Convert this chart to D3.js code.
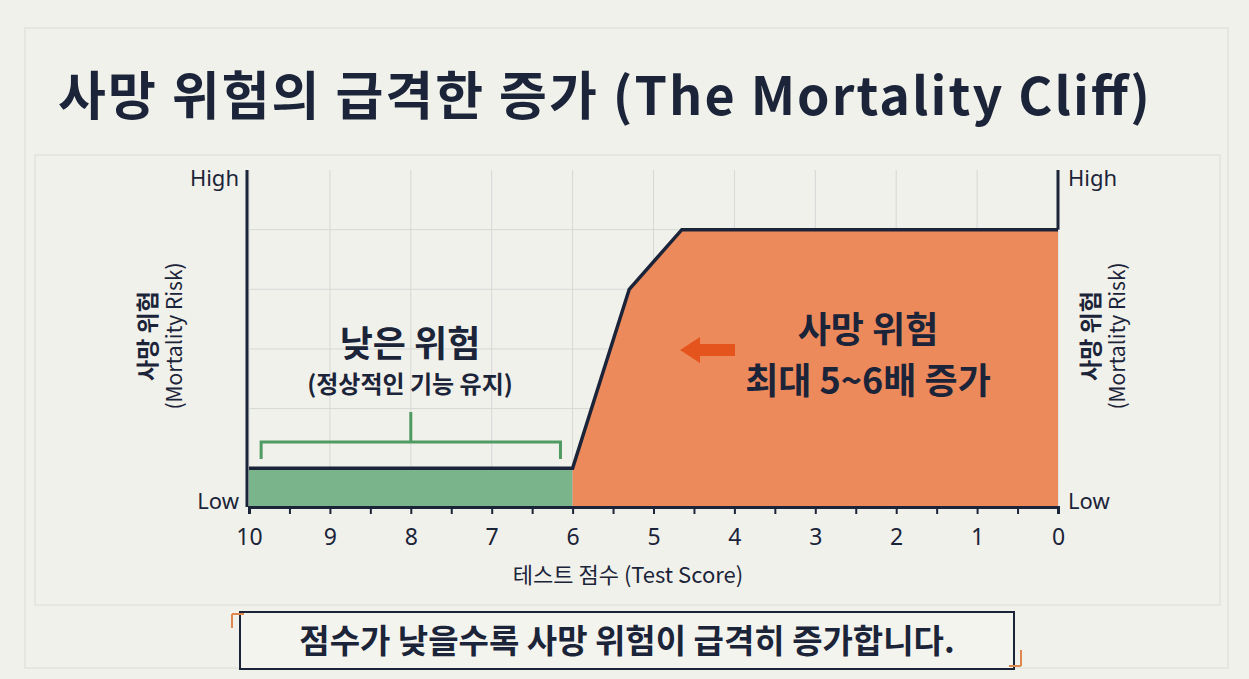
<!DOCTYPE html>
<html><head><meta charset="utf-8">
<script src="https://cdn.jsdelivr.net/npm/d3@7"></script>
<style>body{margin:0;background:#f1f1ec;font-family:"Noto Sans CJK KR","Noto Sans",sans-serif}</style>
</head><body><svg id="c" width="1249" height="679"></svg>
<script>
// data
const lowSeries = [[10, 0.65], [6, 0.65]];
const highSeries = [[6, 0.65], [5.3, 3.65], [4.65, 4.65], [0, 4.65]];
const xTicks = [10, 9, 8, 7, 6, 5, 4, 3, 2, 1, 0];
const yGrid = [0.65, 1.65, 2.65, 3.65, 4.65];
const yLabels = ["Low", "High"];

const svg = d3.select("#c");
const navy = "#1b2438";
const x = d3.scaleLinear().domain([10, 0]).range([249, 1058]);
const y = d3.scaleLinear().domain([0, 5.65]).range([507, 170]);

svg.append("rect").attr("x", 25).attr("y", 28).attr("width", 1203).attr("height", 640)
  .attr("fill", "none").attr("stroke", "#dcdcd6");
svg.append("rect").attr("x", 35).attr("y", 155).attr("width", 1185).attr("height", 450)
  .attr("fill", "none").attr("stroke", "#dcdcd6");
svg.append("text").attr("x", 58).attr("y", 115).attr("font-size", 52).attr("font-weight", 700)
  .attr("textLength", 1092).attr("fill", navy).text("사망 위험의 급격한 증가 (The Mortality Cliff)");

// grid
const g = svg.append("g");
g.selectAll(".vg").data(xTicks).join("line")
  .attr("x1", d => x(d)).attr("x2", d => x(d)).attr("y1", y(5.65)).attr("y2", y(0))
  .attr("stroke", "#d6d8d6");
g.selectAll(".hg").data(yGrid).join("line")
  .attr("x1", x(10)).attr("x2", x(0)).attr("y1", d => y(d)).attr("y2", d => y(d))
  .attr("stroke", "#d6d8d6");

const area = d3.area().x(d => x(d[0])).y0(y(0)).y1(d => y(d[1]));
const line = d3.line().x(d => x(d[0])).y(d => y(d[1]));
g.append("path").datum(lowSeries).attr("d", area).attr("fill", "#7ab48b");
g.append("path").datum(highSeries).attr("d", area).attr("fill", "#ec8a5c");
g.append("path").datum(lowSeries.concat(highSeries.slice(1))).attr("d", line)
  .attr("fill", "none").attr("stroke", navy).attr("stroke-width", 3.5);
g.append("line").attr("x1", x(0)).attr("x2", x(0)).attr("y1", y(5.65)).attr("y2", y(4.65))
  .attr("stroke", navy).attr("stroke-width", 3);

// axes
const xAxis = d3.axisBottom(x).tickValues(d3.range(0, 10.01, 0.5)).tickSize(7)
  .tickFormat(d => Number.isInteger(d) ? d : "");
const ax = svg.append("g").attr("transform", `translate(0,${y(0)})`).call(xAxis);
ax.select(".domain").attr("stroke", navy).attr("stroke-width", 3);
ax.selectAll(".tick line").attr("stroke", navy).attr("stroke-width", 2);
ax.selectAll(".tick text").attr("font-size", 23).attr("fill", navy).attr("dy", "1.2em")
  .attr("font-family", "Noto Sans");
svg.append("line").attr("x1", x(10) - 2).attr("x2", x(10) - 2).attr("y1", y(5.65)).attr("y2", y(0))
  .attr("stroke", navy).attr("stroke-width", 3);

[[x(10) - 10, "end"], [x(0) + 10, "start"]].forEach(([px, anc]) => {
  [[0, yLabels[0]], [5.65, yLabels[1]]].forEach(([v, t]) => {
    svg.append("text").attr("x", px).attr("y", y(v) + (v ? 16 : 2)).attr("text-anchor", anc)
      .attr("font-size", 22).attr("fill", navy).attr("font-family", "Noto Sans").text(t);
  });
});
[[160, 336], [1103, 336]].forEach(([px, py]) => {
  const t = svg.append("text").attr("transform", `translate(${px},${py}) rotate(-90)`)
    .attr("text-anchor", "middle").attr("fill", navy);
  t.append("tspan").attr("x", 0).attr("dy", -4).attr("font-size", 23).attr("font-weight", 700).text("사망 위험");
  t.append("tspan").attr("x", 0).attr("dy", 26).attr("font-size", 21).text("(Mortality Risk)");
});
svg.append("text").attr("x", 628).attr("y", 583).attr("text-anchor", "middle").attr("font-size", 22)
  .attr("fill", navy).text("테스트 점수 (Test Score)");

// annotations
svg.append("text").attr("x", 410).attr("y", 357).attr("text-anchor", "middle").attr("font-size", 36)
  .attr("font-weight", 700).attr("fill", navy).text("낮은 위험");
svg.append("text").attr("x", 410).attr("y", 393).attr("text-anchor", "middle").attr("font-size", 24)
  .attr("font-weight", 700).attr("fill", navy).text("(정상적인 기능 유지)");
svg.append("path").attr("d", `M${x(9.85)},459 V442 H${x(6.15)} V459 M${x(8)},442 V412`)
  .attr("fill", "none").attr("stroke", "#4f9b62").attr("stroke-width", 3);
svg.append("text").attr("x", 868).attr("y", 343).attr("text-anchor", "middle").attr("font-size", 36)
  .attr("font-weight", 700).attr("fill", navy).text("사망 위험");
svg.append("text").attr("x", 868).attr("y", 394).attr("text-anchor", "middle").attr("font-size", 36)
  .attr("font-weight", 700).attr("fill", navy).text("최대 5~6배 증가");
svg.append("path").attr("d", "M680,350 L700,337 L700,344 L735,344 L735,356 L700,356 L700,363 Z")
  .attr("fill", "#e4541c");

// bottom note
svg.append("rect").attr("x", 240).attr("y", 612).attr("width", 774).attr("height", 57)
  .attr("fill", "#f4f4ef").attr("stroke", navy).attr("stroke-width", 2);
svg.append("path").attr("d", "M232,628 V614 M232,614 H244 M1021,650 V666 M1009,666 H1021")
  .attr("stroke", "#e0874f").attr("stroke-width", 2).attr("fill", "none");
svg.append("text").attr("x", 627).attr("y", 653).attr("text-anchor", "middle").attr("font-size", 33)
  .attr("font-weight", 700).attr("fill", navy).text("점수가 낮을수록 사망 위험이 급격히 증가합니다.");
</script></body></html>
